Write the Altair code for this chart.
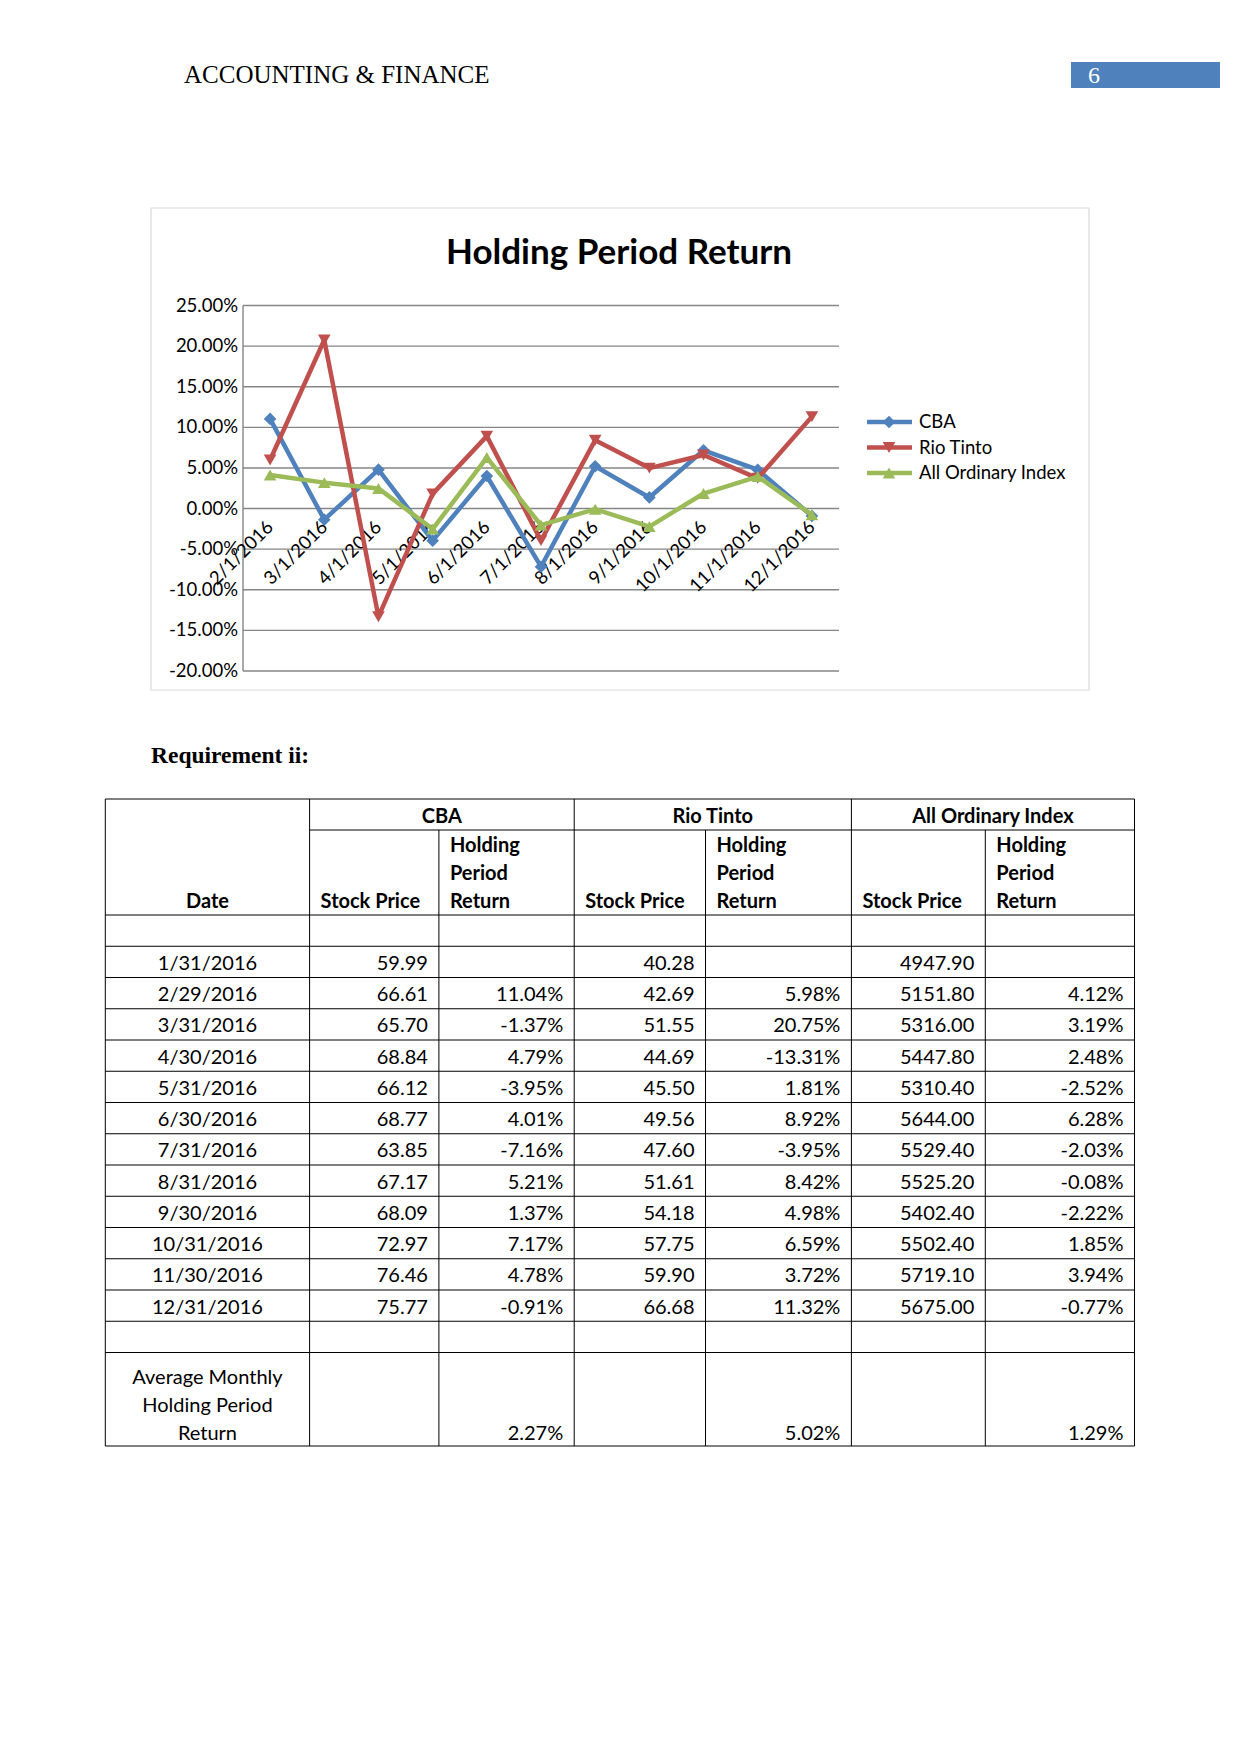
import altair as alt
import pandas as pd

# ---------------- data ----------------
chart_dates = ["2/1/2016", "3/1/2016", "4/1/2016", "5/1/2016", "6/1/2016", "7/1/2016",
               "8/1/2016", "9/1/2016", "10/1/2016", "11/1/2016", "12/1/2016"]
cba_hpr = [0.1104, -0.0137, 0.0479, -0.0395, 0.0401, -0.0716, 0.0521, 0.0137, 0.0717, 0.0478, -0.0091]
rio_hpr = [0.0598, 0.2075, -0.1331, 0.0181, 0.0892, -0.0395, 0.0842, 0.0498, 0.0659, 0.0372, 0.1132]
aoi_hpr = [0.0412, 0.0319, 0.0248, -0.0252, 0.0628, -0.0203, -0.0008, -0.0222, 0.0185, 0.0394, -0.0077]
series_names = ["CBA", "Rio Tinto", "All Ordinary Index"]
y_ticks = [-0.20, -0.15, -0.10, -0.05, 0.0, 0.05, 0.10, 0.15, 0.20, 0.25]
y_tick_labels = ["-20.00%", "-15.00%", "-10.00%", "-5.00%", "0.00%", "5.00%",
                 "10.00%", "15.00%", "20.00%", "25.00%"]

table_dates = ["1/31/2016", "2/29/2016", "3/31/2016", "4/30/2016", "5/31/2016", "6/30/2016",
               "7/31/2016", "8/31/2016", "9/30/2016", "10/31/2016", "11/30/2016", "12/31/2016"]
cba_price = ["59.99", "66.61", "65.70", "68.84", "66.12", "68.77", "63.85", "67.17", "68.09", "72.97", "76.46", "75.77"]
cba_ret = ["", "11.04%", "-1.37%", "4.79%", "-3.95%", "4.01%", "-7.16%", "5.21%", "1.37%", "7.17%", "4.78%", "-0.91%"]
rio_price = ["40.28", "42.69", "51.55", "44.69", "45.50", "49.56", "47.60", "51.61", "54.18", "57.75", "59.90", "66.68"]
rio_ret = ["", "5.98%", "20.75%", "-13.31%", "1.81%", "8.92%", "-3.95%", "8.42%", "4.98%", "6.59%", "3.72%", "11.32%"]
aoi_price = ["4947.90", "5151.80", "5316.00", "5447.80", "5310.40", "5644.00", "5529.40", "5525.20",
             "5402.40", "5502.40", "5719.10", "5675.00"]
aoi_ret = ["", "4.12%", "3.19%", "2.48%", "-2.52%", "6.28%", "-2.03%", "-0.08%", "-2.22%", "1.85%", "3.94%", "-0.77%"]
avg_hpr = ["2.27%", "5.02%", "1.29%"]

# ---------------- layout / style (view coords = page - 8) ----------------
COLORS = ["#4F81BD", "#C0504D", "#9BBB59"]
SHAPES = ["diamond", "triangle-down", "triangle-up"]
GRID = "#868686"
CH_FONT = "Lato"
SERIF = "Liberation Serif"

PLOT_X0, PLOT_X1 = 235, 831
PLOT_Y_BOTTOM, PLOT_Y_TOP = 663, 297.5

xscale = alt.Scale(type="point", domain=chart_dates, range=[PLOT_X0, PLOT_X1], padding=0.5)
yscale = alt.Scale(domain=[min(y_ticks), max(y_ticks)], range=[PLOT_Y_BOTTOM, PLOT_Y_TOP], nice=False, zero=False)

layers = []

def one(**kw):
    return pd.DataFrame({k: [v] for k, v in kw.items()})

# page header
layers.append(alt.Chart(one(t="ACCOUNTING & FINANCE")).mark_text(
    align="left", baseline="alphabetic", font=SERIF, fontSize=25, color="#000000"
).encode(x=alt.value(176), y=alt.value(75), text="t:N"))
layers.append(alt.Chart(one(t="")).mark_rect(color="#4F81BD").encode(
    x=alt.value(1063), x2=alt.value(1212), y=alt.value(54), y2=alt.value(80)))
layers.append(alt.Chart(one(t="6")).mark_text(
    align="left", baseline="alphabetic", font=SERIF, fontSize=24, color="#FFFFFF"
).encode(x=alt.value(1080), y=alt.value(75), text="t:N"))

# chart frame
layers.append(alt.Chart(one(t="")).mark_rect(fill="#FFFFFF", stroke="#D9D9D9", strokeWidth=1.2).encode(
    x=alt.value(143), x2=alt.value(1081), y=alt.value(200), y2=alt.value(682)))
layers.append(alt.Chart(one(t="Holding Period Return")).mark_text(
    align="center", baseline="alphabetic", font=CH_FONT, fontSize=35, fontWeight="bold", color="#000000"
).encode(x=alt.value(611), y=alt.value(256), text="t:N"))

# gridlines
tick_df = pd.DataFrame({"t": y_ticks, "label": y_tick_labels})
layers.append(alt.Chart(tick_df).mark_rule(color=GRID, strokeWidth=1.4).encode(
    y=alt.Y("t:Q", scale=yscale, axis=None), x=alt.value(PLOT_X0), x2=alt.value(PLOT_X1)))
# y axis line
ax_df = pd.DataFrame({"lo": [min(y_ticks)], "hi": [max(y_ticks)]})
layers.append(alt.Chart(ax_df).mark_rule(color=GRID, strokeWidth=1.4).encode(
    y=alt.Y("lo:Q", scale=yscale, axis=None), y2="hi:Q", x=alt.value(PLOT_X0)))
# y tick labels
layers.append(alt.Chart(tick_df).mark_text(
    align="right", baseline="middle", font=CH_FONT, fontSize=18.5, color="#000000"
).encode(y=alt.Y("t:Q", scale=yscale, axis=None), x=alt.value(230), text="label:N"))

# x category labels at the zero line
xl_df = pd.DataFrame({"date": chart_dates, "zero": [0.0] * len(chart_dates)})
layers.append(alt.Chart(xl_df).mark_text(
    angle=315, align="right", baseline="top", dx=-11, dy=2, font=CH_FONT, fontSize=18.5, color="#000000"
).encode(x=alt.X("date:O", scale=xscale, axis=None),
         y=alt.Y("zero:Q", scale=yscale, axis=None), text="date:N"))

# series
for name, vals, col, shp in zip(series_names, [cba_hpr, rio_hpr, aoi_hpr], COLORS, SHAPES):
    df = pd.DataFrame({"date": chart_dates, "hpr": vals, "idx": list(range(len(chart_dates)))})
    enc = dict(x=alt.X("date:O", scale=xscale, axis=None),
               y=alt.Y("hpr:Q", scale=yscale, axis=None))
    layers.append(alt.Chart(df).mark_line(color=col, strokeWidth=4.5, strokeJoin="round").encode(
        order=alt.Order("idx:Q"), **enc))
    layers.append(alt.Chart(df).mark_point(shape=shp, filled=True, size=160, color=col, opacity=1).encode(**enc))

# legend
leg_df = pd.DataFrame({"series": series_names})
leg_y = alt.Y("series:N", scale=alt.Scale(type="point", domain=series_names, range=[414, 465], padding=0), axis=None)
leg_col = alt.Color("series:N", scale=alt.Scale(domain=series_names, range=COLORS), legend=None)
leg_shape = alt.Shape("series:N", scale=alt.Scale(domain=series_names, range=SHAPES), legend=None)
layers.append(alt.Chart(leg_df).mark_rule(strokeWidth=4.5).encode(
    y=leg_y, x=alt.value(859), x2=alt.value(904), color=leg_col))
layers.append(alt.Chart(leg_df).mark_point(filled=True, size=160, opacity=1).encode(
    y=leg_y, x=alt.value(881), color=leg_col, shape=leg_shape))
layers.append(alt.Chart(leg_df).mark_text(
    align="left", baseline="middle", font=CH_FONT, fontSize=18.5, color="#000000"
).encode(y=leg_y, x=alt.value(911), text="series:N"))

# Requirement heading
layers.append(alt.Chart(one(t="Requirement ii:")).mark_text(
    align="left", baseline="alphabetic", font=SERIF, fontSize=23.5, fontWeight="bold", color="#000000"
).encode(x=alt.value(143), y=alt.value(755), text="t:N"))

# ---------------- table ----------------
COLS = [97.3, 301.6, 430.9, 566.2, 697.5, 843.4, 977.3, 1126.5]
T_TOP, H1_BOT, H2_BOT = 791, 822, 907
ROW_H = 31.25
BODY_TOP = H2_BOT + ROW_H               # after blank row
BODY_BOT = BODY_TOP + ROW_H * len(table_dates)
BLANK2_BOT = BODY_BOT + ROW_H
T_BOT = 1438
PAD = 11

segs = []
for i, cx in enumerate(COLS):
    top = H1_BOT if i in (2, 4, 6) else T_TOP
    segs.append((cx, cx, top, T_BOT))
segs.append((COLS[0], COLS[-1], T_TOP, T_TOP))
segs.append((COLS[1], COLS[-1], H1_BOT, H1_BOT))
hlines = [H2_BOT, BODY_TOP] + [BODY_TOP + ROW_H * (k + 1) for k in range(len(table_dates))] + [BLANK2_BOT, T_BOT]
for yy in hlines:
    segs.append((COLS[0], COLS[-1], yy, yy))
seg_df = pd.DataFrame(segs, columns=["x", "x2", "y", "y2"])
layers.append(alt.Chart(seg_df).mark_rule(color="#000000", strokeWidth=1).encode(
    x=alt.X("x:Q", scale=None, axis=None), x2="x2:Q",
    y=alt.Y("y:Q", scale=None, axis=None), y2="y2:Q"))

TFONT = "Lato"
TSIZE = 20

# header texts
hdr = []
hdr.append(("CBA", (COLS[1] + COLS[3]) / 2, 808.7, "center"))
hdr.append(("Rio Tinto", (COLS[3] + COLS[5]) / 2, 808.7, "center"))
hdr.append(("All Ordinary Index", (COLS[5] + COLS[7]) / 2, 808.7, "center"))
hdr.append(("Date", (COLS[0] + COLS[1]) / 2, 894, "center"))
for c in (1, 3, 5):
    hdr.append(("Stock Price", COLS[c] + PAD, 894, "left"))
for c in (2, 4, 6):
    for word, yy in zip(["Holding", "Period", "Return"], [838, 866, 894]):
        hdr.append((word, COLS[c] + PAD, yy, "left"))
hdr_df = pd.DataFrame(hdr, columns=["t", "x", "y", "al"])
for al in ("center", "left"):
    layers.append(alt.Chart(hdr_df[hdr_df.al == al]).mark_text(
        align=al, baseline="middle", font=TFONT, fontSize=TSIZE, fontWeight="bold", color="#000000"
    ).encode(x=alt.X("x:Q", scale=None, axis=None), y=alt.Y("y:Q", scale=None, axis=None), text="t:N"))

# body texts
body = pd.DataFrame({"date": table_dates, "c1": cba_price, "c2": cba_ret, "c3": rio_price,
                     "c4": rio_ret, "c5": aoi_price, "c6": aoi_ret})
rowscale = alt.Scale(type="point", domain=table_dates, range=[BODY_TOP, BODY_BOT], padding=0.5)
ry = alt.Y("date:O", scale=rowscale, axis=None)
layers.append(alt.Chart(body).mark_text(
    align="center", baseline="middle", dy=2, font=TFONT, fontSize=TSIZE, color="#000000"
).encode(y=ry, x=alt.value((COLS[0] + COLS[1]) / 2), text="date:N"))
for c in range(1, 7):
    layers.append(alt.Chart(body).mark_text(
        align="right", baseline="middle", dy=2, font=TFONT, fontSize=TSIZE, color="#000000"
    ).encode(y=ry, x=alt.value(COLS[c + 1] - PAD), text=f"c{c}:N"))

# average row
avg_lines = ["Average Monthly", "Holding Period", "Return"]
avg_df = pd.DataFrame({"t": avg_lines, "y": [1370, 1398, 1426]})
layers.append(alt.Chart(avg_df).mark_text(
    align="center", baseline="middle", font=TFONT, fontSize=TSIZE, color="#000000"
).encode(x=alt.value((COLS[0] + COLS[1]) / 2), y=alt.Y("y:Q", scale=None, axis=None), text="t:N"))
avg_val_df = pd.DataFrame({"t": avg_hpr, "x": [COLS[3] - PAD, COLS[5] - PAD, COLS[7] - PAD]})
layers.append(alt.Chart(avg_val_df).mark_text(
    align="right", baseline="middle", font=TFONT, fontSize=TSIZE, color="#000000"
).encode(x=alt.X("x:Q", scale=None, axis=None), y=alt.value(1426), text="t:N"))

chart = alt.layer(*layers).resolve_scale(
    x="independent", y="independent", color="independent", shape="independent"
).properties(
    width=1225, height=1480, autosize="none", padding=0, background="#FFFFFF"
).configure_view(stroke=None)

chart.save("out.html", embed_options={"renderer": "svg", "actions": False})
